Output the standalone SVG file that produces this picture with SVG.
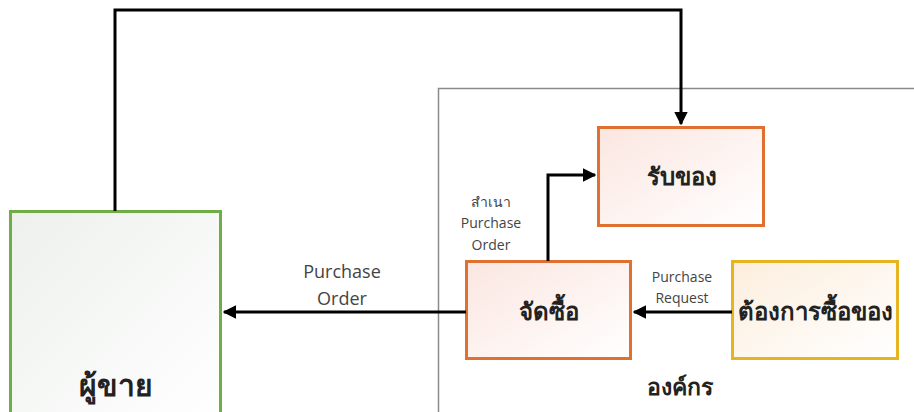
<svg xmlns="http://www.w3.org/2000/svg" width="914" height="412" viewBox="0 0 914 412">
<style>
.box{stroke-width:3}
.lbl{font-family:"Noto Sans","DejaVu Sans",sans-serif;font-weight:bold;font-size:24px;fill:#222;text-anchor:middle}
.sm{font-family:"Open Sans","Noto Sans","DejaVu Sans",sans-serif;font-size:18px;fill:#444;text-anchor:middle}
.sm2{font-family:"Open Sans","Noto Sans","DejaVu Sans",sans-serif;font-size:14px;fill:#444;text-anchor:middle}
.con{fill:none;stroke:#000;stroke-width:3}
</style>
<defs>
<marker id="ah" viewBox="0 0 10 10" refX="9" refY="5" markerWidth="4.5" markerHeight="4.5" orient="auto" markerUnits="strokeWidth"><path d="M0,0 L10,5 L0,10 z" fill="#000"/></marker>
<linearGradient id="gO" x1="0" y1="0" x2="1" y2="1"><stop offset="0" stop-color="#FBE6E0"/><stop offset="1" stop-color="#FFFFFF"/></linearGradient>
<linearGradient id="gY" x1="0" y1="0" x2="1" y2="1"><stop offset="0" stop-color="#FCEEDD"/><stop offset="1" stop-color="#FFFFFF"/></linearGradient>
<linearGradient id="gG" x1="0" y1="0" x2="1" y2="1"><stop offset="0" stop-color="#EDF0ED"/><stop offset="1" stop-color="#FFFFFF"/></linearGradient>
</defs>
<rect width="914" height="412" fill="#fff"/>
<g id="org">
<rect x="438.5" y="88.5" width="480" height="330" fill="#fff" stroke="#8a8a8a" stroke-width="1.5"/>
<text class="lbl" x="680" y="395" style="font-size:23px">องค์กร</text>
</g>
<g id="vendor">
<rect class="box" x="10.5" y="211.5" width="210" height="210" fill="url(#gG)" stroke="#70AD47"/>
<text class="lbl" x="116" y="396" style="font-size:30px">ผู้ขาย</text>
</g>
<g id="receive">
<rect class="box" x="598.5" y="127.5" width="165" height="98" fill="url(#gO)" stroke="#E0702F"/>
<text class="lbl" x="682" y="185">รับของ</text>
</g>
<g id="purchase">
<rect class="box" x="466.5" y="261.5" width="164" height="97" fill="url(#gO)" stroke="#E0702F"/>
<text class="lbl" x="549" y="320">จัดซื้อ</text>
</g>
<g id="need">
<rect class="box" x="732.5" y="261.5" width="165" height="97" fill="url(#gY)" stroke="#E6B420"/>
<text class="lbl" x="815" y="320">ต้องการซื้อของ</text>
</g>
<g id="connectors">
<path class="con" d="M115,211 V10 H681 V124" marker-end="url(#ah)"/>
<path class="con" d="M548,261 V175 H595" marker-end="url(#ah)"/>
<path class="con" d="M732,312 H634" marker-end="url(#ah)"/>
<path class="con" d="M466,312 H224" marker-end="url(#ah)"/>
<text class="sm2" x="491" y="207">สำเนา</text>
<text class="sm2" x="491" y="228">Purchase</text>
<text class="sm2" x="491" y="250">Order</text>
<text class="sm2" x="682" y="282">Purchase</text>
<text class="sm2" x="682" y="303">Request</text>
<text class="sm" x="342" y="278">Purchase</text>
<text class="sm" x="342" y="305">Order</text>
</g>
</svg>
